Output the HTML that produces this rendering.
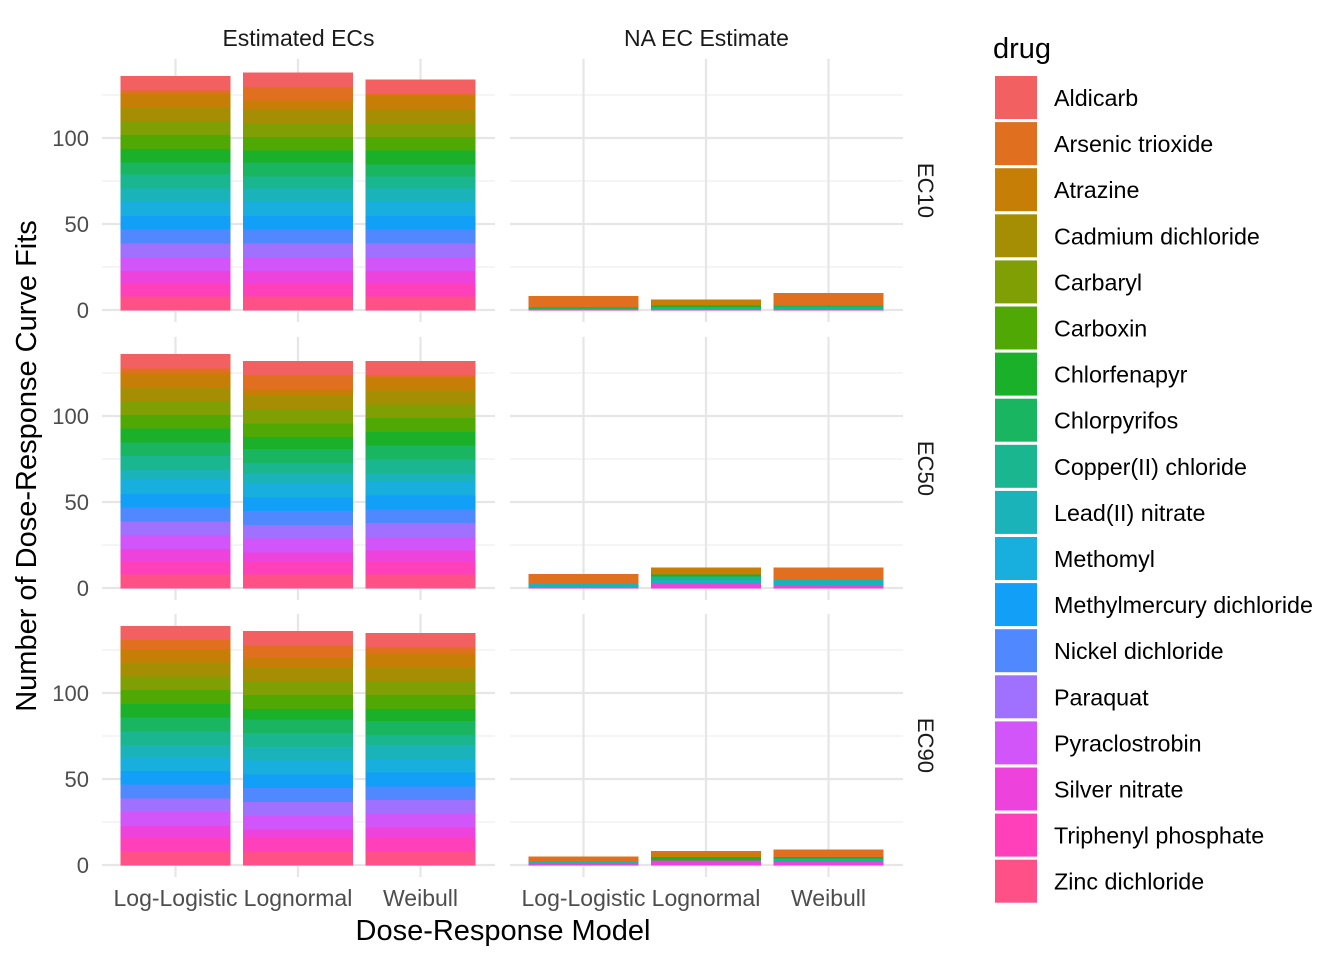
<!DOCTYPE html>
<html><head><meta charset="utf-8"><style>
body{margin:0;background:#fff;}
svg text{font-family:"Liberation Sans",Arial,sans-serif;}
</style></head><body>
<svg id="chart" width="1344" height="960" viewBox="0 0 1344 960" xmlns="http://www.w3.org/2000/svg">
<g id="grid"></g>
<g id="bars" shape-rendering="crispEdges"></g>
<g id="labels"></g>
<g id="legend"></g>
</svg>
<script>
const drugs = ["Aldicarb","Arsenic trioxide","Atrazine","Cadmium dichloride","Carbaryl","Carboxin","Chlorfenapyr","Chlorpyrifos","Copper(II) chloride","Lead(II) nitrate","Methomyl","Methylmercury dichloride","Nickel dichloride","Paraquat","Pyraclostrobin","Silver nitrate","Triphenyl phosphate","Zinc dichloride"];
const colors = ["#F26061","#E07020","#C67E06","#A68E04","#809F05","#50A805","#1AB02A","#1AB560","#1AB690","#1AB3BA","#18AEDD","#129FF8","#5088FF","#A070FF","#D255FA","#EE42DD","#FF40BA","#FF5088"];
const models = ["Log-Logistic","Lognormal","Weibull"];
const ecs = ["EC10","EC50","EC90"];
const facets = ["Estimated ECs","NA EC Estimate"];
const yTicks = [0,50,100];
const yMinor = [25,75,125];
const estEC10LL = [8,2,8,8,8,8,8,7,8,8,8,8,8,8,8,7,8,8];
const estEC10LN = [8,8,5,8,8,8,7,8,7,8,8,8,8,8,8,7,8,8];
const estEC10W  = [8,1,8,8,8,8,8,7,7,8,8,8,8,8,8,7,8,8];
const estEC50LL = [8,3,8,8,8,8,8,8,8,6,8,8,8,8,8,7,8,8];
const estEC50LN = [8,8,4,8,8,8,7,8,6,6,8,8,8,8,8,5,8,8];
const estEC50W  = [8,1,8,8,8,8,8,8,8,5,8,8,8,8,8,6,8,8];
const estEC90LL = [8,5,8,8,8,8,8,8,8,7,8,8,8,8,8,7,8,8];
const estEC90LN = [8,7,6,8,8,8,6,8,8,8,8,8,8,8,8,5,8,8];
const estEC90W  = [8,4,8,8,8,8,7,8,6,8,8,8,8,8,8,6,8,8];
const naEC10LL = [0,6,0,0,0,0,0,1,0,0,0,0,0,0,0,1,0,0];
const naEC10LN = [0,0,3,0,0,0,1,0,1,0,0,0,0,0,0,1,0,0];
const naEC10W  = [0,7,0,0,0,0,0,1,1,0,0,0,0,0,0,1,0,0];
const naEC50LL = [0,5,0,0,0,0,0,0,0,2,0,0,0,0,0,1,0,0];
const naEC50LN = [0,0,4,0,0,0,1,0,2,2,0,0,0,0,0,3,0,0];
const naEC50W  = [0,7,0,0,0,0,0,0,0,3,0,0,0,0,0,2,0,0];
const naEC90LL = [0,3,0,0,0,0,0,0,0,1,0,0,0,0,0,1,0,0];
const naEC90LN = [0,1,2,0,0,0,2,0,0,0,0,0,0,0,0,3,0,0];
const naEC90W  = [0,4,0,0,0,0,1,0,2,0,0,0,0,0,0,2,0,0];

const est = [[estEC10LL,estEC10LN,estEC10W],[estEC50LL,estEC50LN,estEC50W],[estEC90LL,estEC90LN,estEC90W]];
const nas = [[naEC10LL,naEC10LN,naEC10W],[naEC50LL,naEC50LN,naEC50W],[naEC90LL,naEC90LN,naEC90W]];

const NS="http://www.w3.org/2000/svg";
function mk(tag, attrs, parent){const e=document.createElementNS(NS,tag);for(const k in attrs)e.setAttribute(k,attrs[k]);parent.appendChild(e);return e;}
const panelX=[[102,495],[510,903]];
const rowZero=[310,588,865];
const ppu=1.72;
const bandW=122.5;
function xScale(col,i){return panelX[col][0]+0.6*bandW+i*bandW;}
function yScale(row,v){return rowZero[row]-v*ppu;}
const grid=document.getElementById('grid'),bars=document.getElementById('bars'),labels=document.getElementById('labels'),legend=document.getElementById('legend');

for(let r=0;r<3;r++){
  const top=yScale(r,146), bot=rowZero[r]+12;
  for(let c=0;c<2;c++){
    const [x0,x1]=panelX[c];
    yMinor.forEach(v=>{const l=mk('line',{x1:x0,x2:x1,y1:yScale(r,v),y2:yScale(r,v),stroke:'#EBEBEB','stroke-width':1.1},grid);
      });
    yTicks.forEach(v=>{const l=mk('line',{x1:x0,x2:x1,y1:yScale(r,v),y2:yScale(r,v),stroke:'#E6E6E6','stroke-width':2.2},grid);
      });
    models.forEach((m,i)=>{const x=xScale(c,i);const l=mk('line',{x1:x,x2:x,y1:top,y2:bot,stroke:'#E6E6E6','stroke-width':2.2},grid);
      });
    const data=c===0?est[r]:nas[r];
    models.forEach((m,i)=>{
      let cum=0;const bw=bandW*0.9;const x=xScale(c,i)-bw/2;
      for(let d=drugs.length-1;d>=0;d--){
        const v=data[i][d];if(!v)continue;
        const y1=yScale(r,cum+v),y0=yScale(r,cum);
        const rect=mk('rect',{x:x,y:y1,width:bw,height:y0-y1+0.5,fill:colors[d]},bars);
        
        
        cum+=v;
      }
    });
  }
  yTicks.forEach(v=>{const t=mk('text',{x:89,y:yScale(r,v)+8,'text-anchor':'end','font-size':22,fill:'#4D4D4D'},labels);t.textContent=v;
    });
  const sx=918, sy=(top+bot)/2;
  const st=mk('text',{x:sx,y:sy,'text-anchor':'middle','font-size':22,fill:'#1A1A1A',transform:`rotate(90 ${sx} ${sy})`},labels);st.textContent=ecs[r];
  
}
facets.forEach((f,c)=>{const t=mk('text',{x:(panelX[c][0]+panelX[c][1])/2,y:46,'text-anchor':'middle','font-size':23,fill:'#1A1A1A'},labels);t.textContent=f;
  
  models.forEach((m,i)=>{const tt=mk('text',{x:xScale(c,i),y:906,'text-anchor':'middle','font-size':23,fill:'#4D4D4D'},labels);tt.textContent=m;
    });
});
const xt=mk('text',{x:503,y:940,'text-anchor':'middle','font-size':29,fill:'#000'},labels);xt.textContent='Dose-Response Model';

const yt=mk('text',{x:36,y:466,'text-anchor':'middle','font-size':29,fill:'#000',transform:'rotate(-90 36 466)'},labels);yt.textContent='Number of Dose-Response Curve Fits';

const lt=mk('text',{x:993,y:58,'font-size':29,fill:'#000'},legend);lt.textContent='drug';

drugs.forEach((d,i)=>{const y=76+i*46.1;
  const r=mk('rect',{x:995,y:y,width:42,height:43,fill:colors[i]},legend);
  
  const t=mk('text',{x:1054,y:y+30,'font-size':23.3,fill:'#000'},legend);t.textContent=d;
  
});
</script>
</body></html>
